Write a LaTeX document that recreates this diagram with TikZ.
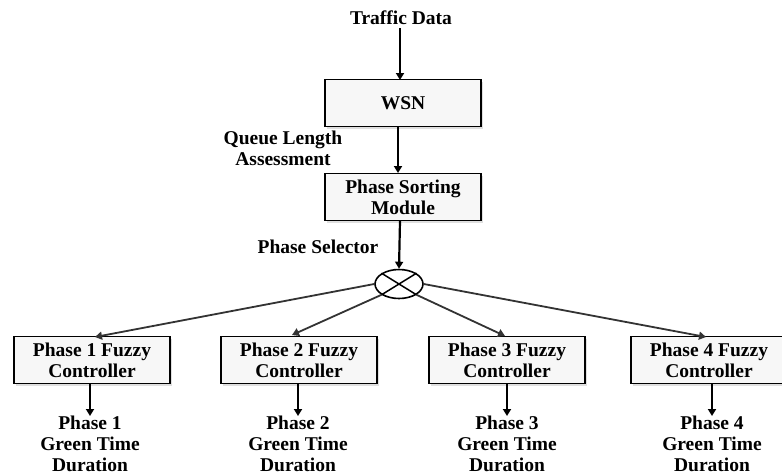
\documentclass[tikz,border=0pt]{standalone}
\usepackage{fontspec}
\setmainfont{Liberation Serif}
\usetikzlibrary{arrows.meta,shadows,shapes.geometric}
\begin{document}
\begin{tikzpicture}[x=1pt,y=-1pt,
  every node/.style={font=\bfseries\fontsize{19.5}{21}\selectfont, align=center},
  blockbox/.style={draw, line width=1.5pt, fill=gray!6, minimum width=156pt, minimum height=47pt, inner sep=1pt,
     drop shadow={shadow xshift=2pt, shadow yshift=-2pt, fill=gray!50}},
  arr/.style={line width=2.2pt, -{Triangle[length=7pt,width=8pt]}},
  thin arr/.style={line width=1.8pt, black!80, -{Triangle[length=7pt,width=8pt]}},
  lbl/.style={inner sep=0pt}]
\useasboundingbox (0,0) rectangle (782,475);
\node[lbl] (td) at (401,18) {Traffic Data};
\node[blockbox] (wsn) at (403,103) {WSN};
\node[blockbox] (psm) at (403,197) {Phase Sorting\\Module};
\node[lbl] (qla) at (283,148) {Queue Length\\Assessment};
\node[lbl] (ps) at (318,247) {Phase Selector};
\node[draw, ellipse, line width=1.6pt, minimum width=48pt, minimum height=29pt, inner sep=0pt] (sel) at (399,284) {};
\draw[line width=1.5pt] (sel.north west) -- (sel.south east) (sel.south west) -- (sel.north east);
\node[blockbox] (p1) at (92,360) {Phase 1 Fuzzy\\Controller};
\node[blockbox] (p2) at (299,360) {Phase 2 Fuzzy\\Controller};
\node[blockbox] (p3) at (507,360) {Phase 3 Fuzzy\\Controller};
\node[blockbox] (p4) at (709,360) {Phase 4 Fuzzy\\Controller};
\node[lbl, anchor=north] (o1) at (90,416) {Phase 1\\Green Time\\Duration};
\node[lbl, anchor=north] (o2) at (298,416) {Phase 2\\Green Time\\Duration};
\node[lbl, anchor=north] (o3) at (507,416) {Phase 3\\Green Time\\Duration};
\node[lbl, anchor=north] (o4) at (712,416) {Phase 4\\Green Time\\Duration};
\draw[arr] (td.south -| 400,0) ++(0,3) -- (400,80);
\draw[arr] (398,127) -- (398,173);
\draw[arr] (400,221) -- (sel.north);
\draw[thin arr] (sel.west) -- (95,337);
\draw[thin arr] (sel.south west) -- (292,335);
\draw[thin arr] (sel.south east) -- (505,336);
\draw[thin arr] (sel.east) -- (706,337);
\draw[arr] (p1.south -| o1.north) -- (o1.north);
\draw[arr] (p2.south -| o2.north) -- (o2.north);
\draw[arr] (p3.south -| o3.north) -- (o3.north);
\draw[arr] (p4.south -| o4.north) -- (o4.north);
\end{tikzpicture}
\end{document}
